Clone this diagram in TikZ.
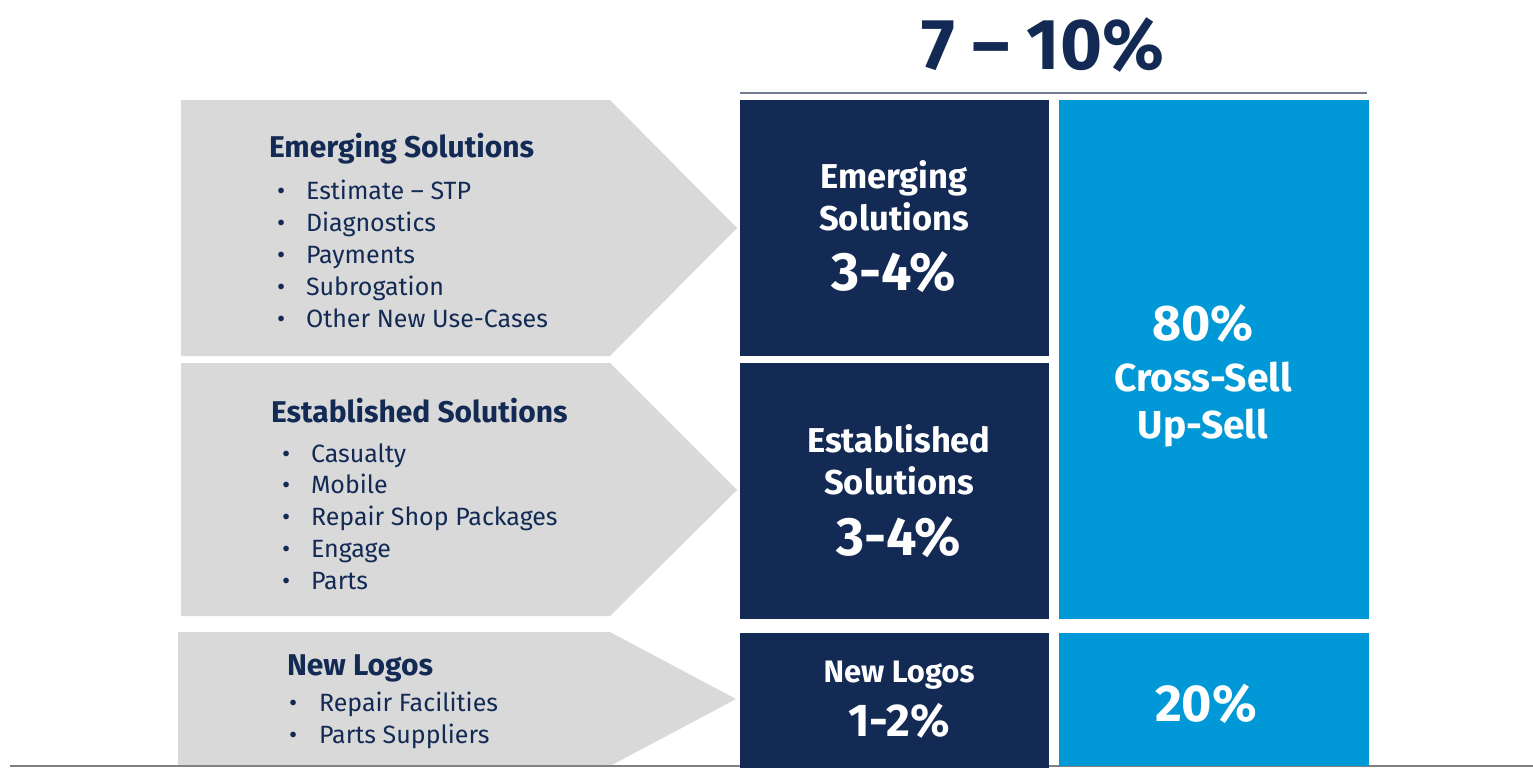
\documentclass[tikz,border=0pt]{standalone}
\usepackage{fontspec}
\setmainfont{Fira Sans}
\usetikzlibrary{positioning}
\definecolor{navy}{RGB}{18,42,84}
\definecolor{sky}{RGB}{0,152,214}
\definecolor{chevgray}{RGB}{217,217,217}
\definecolor{rulegray}{RGB}{112,124,142}
\newcommand{\fsz}[2]{\fontsize{#1}{#2}\selectfont}

\begin{document}
\begin{tikzpicture}[x=1pt,y=-1pt,
    every node/.style={inner sep=0pt,outer sep=0pt},
    rowtitle/.style={anchor=base west,text=navy,font=\fsz{30}{32}\bfseries},
    item/.style={anchor=base west,text=navy,font=\fsz{25}{32}},
    darktile/.style={anchor=north west,fill=navy,minimum width=309},
    skytile/.style={anchor=north west,fill=sky,minimum width=310},
    tilelbl/.style={anchor=base,text=white,font=\fsz{34.5}{42}\bfseries},
    tilepct/.style={anchor=base,text=white,font=\fsz{54}{54}\bfseries}]
    \useasboundingbox (0,0) rectangle (1533,769);
    % grey chevrons behind the lists
    \fill[chevgray] (181,100) -- (610,100) -- (737,228) -- (610,356) -- (181,356) -- cycle;
    \fill[chevgray] (181,363) -- (610,363) -- (737,490) -- (610,616) -- (181,616) -- cycle;
    \fill[chevgray] (178,632) -- (610,632) -- (736,699) -- (610,766) -- (178,766) -- cycle;
    \draw[gray,line width=2pt] (10,766) -- (1533,766);
    % row lists (y values are baselines)
    \node[rowtitle] (em-title) at (269,157) {Emerging Solutions};
    \foreach \t [count=\i] in {Estimate – STP,Diagnostics,Payments,Subrogation,Other New Use-Cases}
      \node[item] (em-\i) at (277,{199+32*(\i-1)}) {\makebox[29pt][l]{\textbullet}\t};
    \node[rowtitle] (es-title) at (271,422) {Established Solutions};
    \foreach \t [count=\i] in {Casualty,Mobile,Repair Shop Packages,Engage,Parts}
      \node[item] (es-\i) at (282,{462+31.75*(\i-1)}) {\makebox[29pt][l]{\textbullet}\t};
    \node[rowtitle] (nl-title) at (287,675) {New Logos};
    \foreach \t [count=\i] in {Repair Facilities,Parts Suppliers}
      \node[item] (nl-\i) at (289,{711+32*(\i-1)}) {\makebox[30pt][l]{\textbullet}\t};
    % headline and its rule
    \node[anchor=base,text=navy,font=\fsz{72}{72}\bfseries] (total) at (1043,69) {7 – 10\%};
    \draw[rulegray,line width=1.5pt] (740,93) -- (1367,93);
    % tiles
    \node[darktile,minimum height=256] (em-box) at (740,100) {};
    \node[darktile,minimum height=256] (es-box) at (740,363) {};
    \node[darktile,minimum height=135] (nl-box) at (740,633) {};
    \node[skytile,minimum height=519] (cs-box) at (1059,100) {};
    \node[skytile,minimum height=133] (new-box) at (1059,633) {};
    % tile texts
    \node[tilelbl] (em-l1) at (894,188) {Emerging};
    \node[tilelbl] (em-l2) at (894,230) {Solutions};
    \node[tilepct] (em-pct) at (894,290) {3-4\%};
    \node[tilelbl] (es-l1) at (899,452) {Established};
    \node[tilelbl] (es-l2) at (899,494) {Solutions};
    \node[tilepct] (es-pct) at (899,555) {3-4\%};
    \node[tilelbl,font=\fsz{31}{31}\bfseries] (nl-l1) at (899,682) {New Logos};
    \node[tilepct,font=\fsz{46}{46}\bfseries] (nl-pct) at (899,736) {1-2\%};
    \node[tilepct,font=\fsz{50}{50}\bfseries] (cs-pct) at (1203,340) {80\%};
    \node[tilelbl,font=\fsz{39}{39}\bfseries] (cs-l1) at (1203,391) {Cross-Sell};
    \node[tilelbl,font=\fsz{39}{39}\bfseries] (cs-l2) at (1203,438) {Up-Sell};
    \node[tilepct,font=\fsz{52}{52}\bfseries] (new-pct) at (1206,721) {20\%};
\end{tikzpicture}
\end{document}
